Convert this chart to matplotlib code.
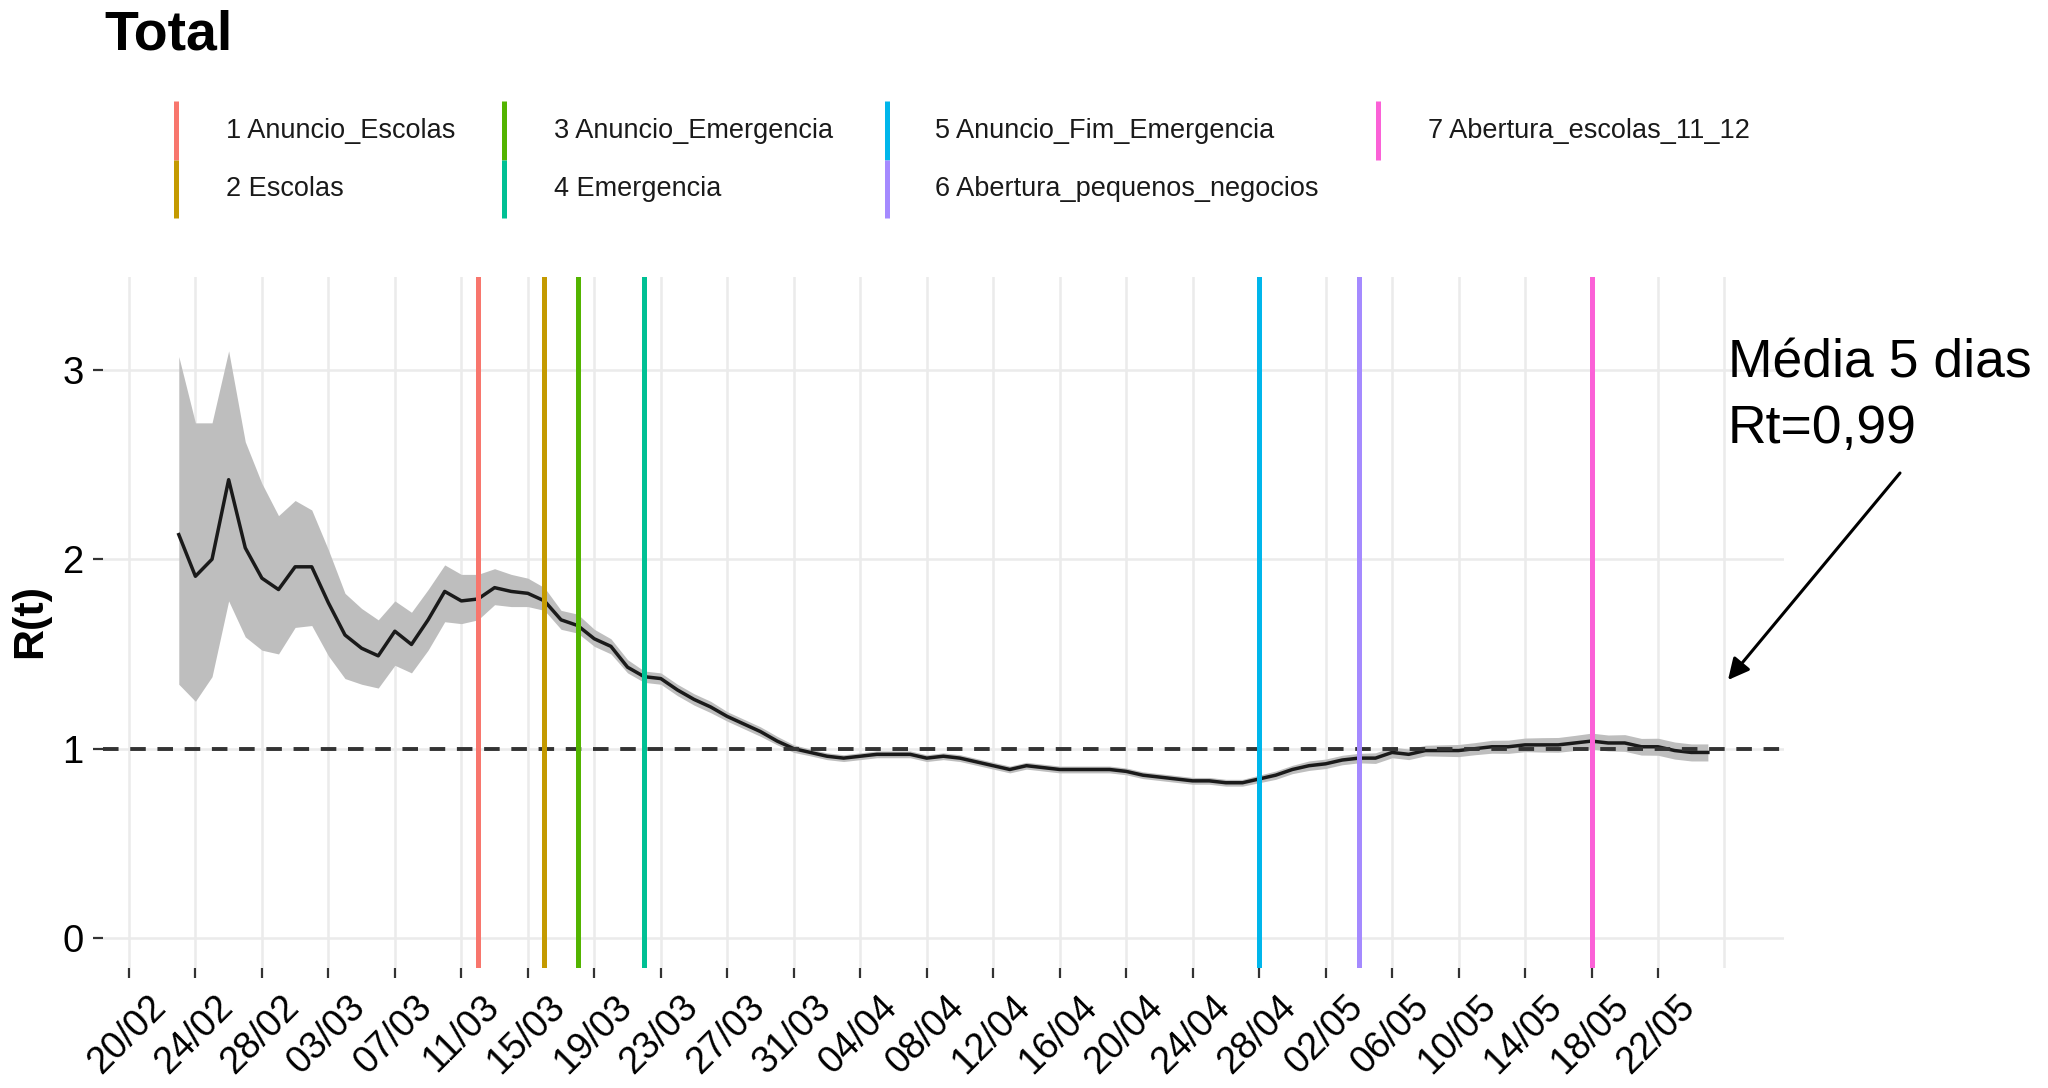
import numpy as np
import matplotlib
matplotlib.use("Agg")
import matplotlib.pyplot as plt
import matplotlib.dates as mdates
from matplotlib.lines import Line2D
from matplotlib.transforms import ScaledTranslation

plt.rcParams['font.family'] = ['Liberation Sans', 'DejaVu Sans']

# dados (23/02 a 25/05)
datas = np.arange(np.datetime64('2020-02-23'), np.datetime64('2020-05-26'))

rt_media = [
    2.13, 1.91, 2.00, 2.42, 2.06, 1.90, 1.84,
    1.96, 1.96, 1.77, 1.60, 1.53, 1.49, 1.62, 1.55, 1.68, 1.83, 1.78, 1.79,
    1.85, 1.83, 1.82, 1.78, 1.68, 1.65, 1.58, 1.54, 1.43, 1.38, 1.37, 1.31,
    1.26, 1.22, 1.17, 1.13, 1.09, 1.04, 1.00,
    0.98, 0.96, 0.95, 0.96, 0.97, 0.97, 0.97, 0.95, 0.96, 0.95, 0.93, 0.91,
    0.89, 0.91, 0.90, 0.89, 0.89, 0.89, 0.89, 0.88, 0.86, 0.85, 0.84, 0.83,
    0.83, 0.82, 0.82, 0.84, 0.86, 0.89,
    0.91, 0.92, 0.94, 0.95, 0.95, 0.98, 0.97, 0.99, 0.99, 0.99, 1.00, 1.01,
    1.01, 1.02, 1.02, 1.02, 1.03, 1.04, 1.03, 1.03, 1.01, 1.01, 0.99, 0.98,
    0.98,
]
rt_inf = [
    1.34, 1.25, 1.38, 1.78, 1.59, 1.52, 1.50,
    1.64, 1.65, 1.49, 1.37, 1.34, 1.32, 1.44, 1.40, 1.52, 1.67, 1.66, 1.68,
    1.76, 1.75, 1.75, 1.73, 1.63, 1.61, 1.54, 1.50, 1.40, 1.35, 1.34, 1.28,
    1.23, 1.19, 1.145, 1.105, 1.065, 1.02, 0.98,
    0.962, 0.942, 0.932, 0.942, 0.952, 0.952, 0.952, 0.932, 0.942, 0.932,
    0.912, 0.892, 0.872, 0.892, 0.882, 0.872, 0.872, 0.872, 0.872, 0.862,
    0.842, 0.832, 0.822, 0.812, 0.812, 0.802, 0.802, 0.82, 0.838, 0.868,
    0.885, 0.895, 0.915, 0.925, 0.922, 0.952, 0.942, 0.962, 0.96, 0.958,
    0.968, 0.976, 0.975, 0.984, 0.982, 0.981, 0.99, 0.998, 0.988, 0.986,
    0.966, 0.965, 0.945, 0.935, 0.935,
]
rt_sup = [
    3.07, 2.72, 2.72, 3.10, 2.62, 2.40, 2.23,
    2.31, 2.26, 2.05, 1.82, 1.74, 1.68, 1.78, 1.72, 1.84, 1.97, 1.92, 1.92,
    1.95, 1.92, 1.90, 1.85, 1.73, 1.71, 1.63, 1.58, 1.47, 1.41, 1.40, 1.34,
    1.29, 1.25, 1.195, 1.155, 1.115, 1.065, 1.02,
    0.998, 0.978, 0.968, 0.978, 0.988, 0.988, 0.988, 0.968, 0.978, 0.968,
    0.948, 0.928, 0.908, 0.928, 0.918, 0.908, 0.908, 0.908, 0.908, 0.898,
    0.878, 0.868, 0.858, 0.848, 0.848, 0.838, 0.838, 0.86, 0.882, 0.912,
    0.935, 0.945, 0.965, 0.975, 0.978, 1.008, 0.998, 1.018, 1.02, 1.022,
    1.032, 1.044, 1.045, 1.056, 1.058, 1.059, 1.07, 1.082, 1.072, 1.074,
    1.054, 1.055, 1.035, 1.025, 1.025,
]

eventos = ["1 Anuncio_Escolas", "2 Escolas", "3 Anuncio_Emergencia", "4 Emergencia",
           "5 Anuncio_Fim_Emergencia", "6 Abertura_pequenos_negocios",
           "7 Abertura_escolas_11_12"]
datas_eventos = ['2020-03-12', '2020-03-16', '2020-03-18', '2020-03-22',
                 '2020-04-28', '2020-05-04', '2020-05-18']
cores = ['#F8766D', '#C49A00', '#53B400', '#00C094', '#00B6EB', '#A58AFF', '#FB61D7']

ticks_x = np.arange(np.datetime64('2020-02-20'), np.datetime64('2020-05-27'), 4)

W, H = 2048, 1088
fig = plt.figure(figsize=(W / 100, H / 100), dpi=100)
ax = fig.add_axes([103 / W, 1 - 968 / H, 1681 / W, 691 / H])

ax.fill_between(datas, rt_inf, rt_sup, color='#bebebe', lw=0, zorder=2)
ax.plot(datas, rt_media, color='#1a1a1a', lw=2.5, zorder=3)
ax.axhline(1, color='#333333', lw=2.8, dashes=(4, 3), zorder=4)
for d, c in zip(datas_eventos, cores):
    ax.axvline(np.datetime64(d), color=c, lw=3.6, zorder=5)

ax.set_xlim(mdates.date2num(np.datetime64('2020-02-20')) - 1.56,
            mdates.date2num(np.datetime64('2020-05-26')) + 3.58)
ax.set_ylim(-0.158, 3.49)
ax.set_yticks([0, 1, 2, 3])
ax.set_xticks(ticks_x)
rotulos = [str(t)[8:10] + '/' + str(t)[5:7] for t in ticks_x]
rotulos[-1] = ''
ax.set_xticklabels(rotulos)

for s in ax.spines.values():
    s.set_visible(False)
ax.grid(color='#EBEBEB', lw=1.8)
ax.set_axisbelow(True)
ax.tick_params(axis='both', length=7, width=1.6, color='#333333',
               labelcolor='black')
ax.tick_params(axis='y', pad=7, labelsize=27.5)
ax.tick_params(axis='x', pad=8, labelsize=27)
ax.xaxis.get_major_ticks()[-1].tick1line.set_visible(False)

off = ScaledTranslation(0.19, 0, fig.dpi_scale_trans)
for lab in ax.get_xticklabels():
    lab.set_rotation(45)
    lab.set_ha('right')
    lab.set_va('top')
    lab.set_rotation_mode('anchor')
    lab.set_transform(lab.get_transform() + off)

# titulo, eixo y
fig.text(104 / W, 1 - 50 / H, 'Total', fontsize=40, fontweight='bold', va='baseline')
fig.text(30 / W, 1 - 621 / H, 'R(t)', rotation=90, fontsize=31, fontweight='bold',
         ha='center', va='center')

# legenda
key_x = [176, 504, 887, 1378]
txt_x = [226, 554, 935, 1428]
for i, (nome, c) in enumerate(zip(eventos, cores)):
    col, row = i // 2, i % 2
    y0 = 101 + row * 58.5
    fig.add_artist(Line2D([key_x[col] / W] * 2, [1 - y0 / H, 1 - (y0 + 58.5) / H],
                          transform=fig.transFigure, color=c, lw=3.6,
                          solid_capstyle='butt'))
    fig.text(txt_x[col] / W, 1 - (131 + row * 58) / H, nome, fontsize=19.5,
             va='center', ha='left', color='#1a1a1a')

# anotacao
fig.text(1728 / W, 1 - 378 / H, 'Média 5 dias', fontsize=38.5, va='baseline')
fig.text(1728 / W, 1 - 443 / H, 'Rt=0,99', fontsize=38.5, va='baseline')
ax.annotate('', xy=(1728 / W, 1 - 680 / H), xytext=(1900 / W, 1 - 473 / H),
            xycoords='figure fraction', textcoords='figure fraction',
            annotation_clip=False,
            arrowprops=dict(arrowstyle='-|>', color='black', lw=2.2,
                            mutation_scale=32, shrinkA=0, shrinkB=0))

fig.savefig('out.png', dpi=100)
